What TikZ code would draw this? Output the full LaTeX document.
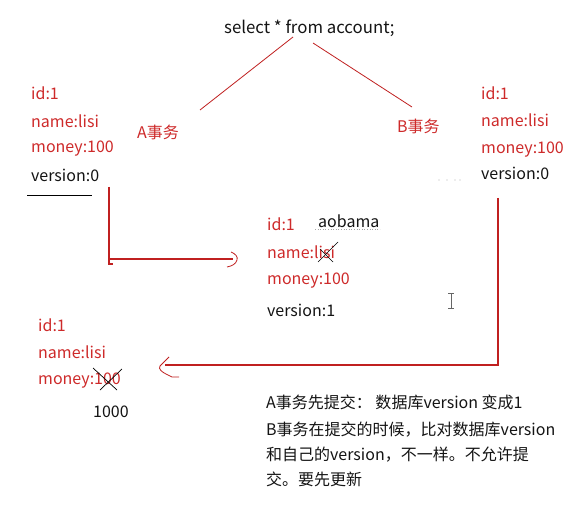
\documentclass[tikz,border=0pt]{standalone}
\usepackage{fontspec}
\setmainfont{Noto Sans CJK SC}
\definecolor{txtred}{RGB}{206,42,42}
\definecolor{linered}{RGB}{192,32,32}
\definecolor{ink}{RGB}{20,20,20}
\begin{document}
\begin{tikzpicture}[x=1pt,y=-1pt,
  txt/.style={inner sep=0pt, anchor=base west, font=\fontsize{16}{19}\selectfont},
  rtxt/.style={txt, text=txtred},
  btxt/.style={txt, text=ink},
  conn/.style={draw=linered, line width=1.1pt},
  thin/.style={draw=linered, line width=0.8pt},
  cross/.style={draw=black, line width=0.7pt}]
\useasboundingbox[fill=white] (0,0) rectangle (570,505);

% query
\node[btxt, font=\fontsize{16.8}{19}\selectfont] (sel) at (224,34) {select * from account;};
\coordinate (a1) at (293,37); \coordinate (a2) at (200,110);
\coordinate (b1) at (313,43); \coordinate (b2) at (412,107);
\draw[thin] (a1) -- (a2);
\draw[thin] (b1) -- (b2);
\node[rtxt] (ta) at (137,139) {A事务};
\node[rtxt] (tb) at (397,133) {B事务};

% left block
\node[rtxt] (l1) at (31,100) {id:1};
\node[rtxt] (l2) at (31,128) {name:lisi};
\node[rtxt] (l3) at (31,153) {money:100};
\node[btxt] (l4) at (31,182) {version:0};
\coordinate (u1) at (27,195); \coordinate (u2) at (92,195);
\draw[black, line width=0.9pt] (u1) -- (u2);

% right block
\node[rtxt] (r1) at (481,100) {id:1};
\node[rtxt] (r2) at (481,127) {name:lisi};
\node[rtxt] (r3) at (481,154) {money:100};
\node[btxt] (r4) at (481,180) {version:0};
\fill[gray!60] (439,180) circle (0.6) (447,180) circle (0.6) (455,180) circle (0.6) (460,180) circle (0.6);

% middle block
\node[rtxt] (m1) at (267,230) {id:1};
\node[rtxt] (m2) at (267,258) {name:lisi};
\node[rtxt] (m3) at (267,284) {money:100};
\node[btxt] (m4) at (267,316) {version:1};
\node[btxt] (ao) at (318,227) {aobama};
\draw[gray!70, line width=0.6pt, dotted] (315,229) -- (380,229);
\draw[cross] (318,262) -- (338,242);
\draw[cross] (320,249) -- (333,262);

% left connector
\coordinate (c1) at (109,187); \coordinate (c2) at (109,264);
\coordinate (c3) at (109,259); \coordinate (c4) at (233,259);
\draw[conn] (c1) -- (c2) -- (113,264);
\draw[conn] (c3) -- (c4);
\draw[thin] (231,252) .. controls (236,254) and (238,257) .. (237,260)
            .. controls (236,264) and (232,266) .. (227,267);

% right connector
\coordinate (d1) at (498,198); \coordinate (d2) at (498,365);
\coordinate (d3) at (165,365);
\draw[conn] (d1) -- (d2) -- (d3);
\draw[thin] (169,357) -- (160,366) .. controls (158,369) and (162,372) .. (166,374)
            -- (172,377) -- (179,377);

% cursor
\draw[gray!80!black, line width=0.7pt] (451,293) -- (451,308)
   (448,293) -- (454,293) (448,308) -- (454,308);

% bottom-left block
\node[rtxt] (e1) at (38,331) {id:1};
\node[rtxt] (e2) at (38,358) {name:lisi};
\node[rtxt] (e3) at (38,384) {money:100};
\draw[cross] (93,368) -- (117,390);
\draw[cross] (100,390) -- (122,369);
\node[btxt] (e4) at (93,417) {1000};

% explanation
\node[btxt] (n1) at (266,408.5) {A事务先提交： 数据库version 变成1};
\node[btxt] (n2) at (266,435.5) {B事务在提交的时候，比对数据库version};
\node[btxt] (n3) at (266,460.5) {和自己的version，不一样。不允许提};
\node[btxt] (n4) at (266,485.5) {交。要先更新};
\end{tikzpicture}
\end{document}
